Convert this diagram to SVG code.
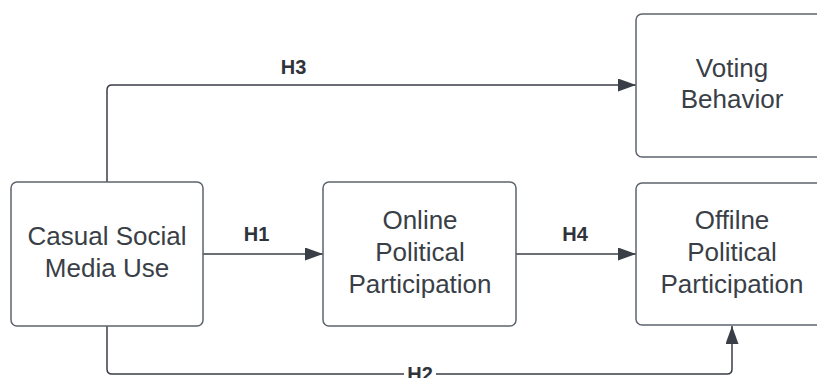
<svg xmlns="http://www.w3.org/2000/svg" width="817" height="378" viewBox="0 0 817 378">
<style>
.box{fill:#ffffff;stroke:#5e646e;stroke-width:1.5}
.t{font-family:"Liberation Sans",Arial,sans-serif;font-size:26px;fill:#3a3f47;text-anchor:middle}
.c{fill:none;stroke:#3a3f47;stroke-width:1.5}
.l{font-family:"Liberation Sans",Arial,sans-serif;font-size:20px;font-weight:bold;fill:#2f343b;text-anchor:middle}
</style>
<defs>
<marker id="ah" viewBox="0 0 18 13" refX="18" refY="6.5" markerWidth="18" markerHeight="13" markerUnits="userSpaceOnUse" orient="auto">
<path d="M0,0 L18,6.5 L0,13 Z" fill="#3a3f47"/>
</marker>
</defs>
<rect width="817" height="378" fill="#ffffff"/>
<g id="connectors">
<path class="c" d="M107,182 V90 Q107,85 112,85 H636" marker-end="url(#ah)"/>
<path class="c" d="M203,254 H323" marker-end="url(#ah)"/>
<path class="c" d="M516,254 H636" marker-end="url(#ah)"/>
<path class="c" d="M107,326 V369 Q107,374 112,374 H727 Q732,374 732,369 V326" marker-end="url(#ah)"/>
<text class="l" x="293.5" y="74">H3</text>
<text class="l" x="256.5" y="241">H1</text>
<text class="l" x="575" y="241">H4</text>
<rect x="404" y="366" width="32" height="14" fill="#ffffff"/>
<text class="l" x="420" y="381">H2</text>
</g>
<g id="casual">
<rect class="box" x="11" y="182" width="192" height="144" rx="6"/>
<text class="t" x="107" y="245">Casual Social</text>
<text class="t" x="107" y="276.5">Media Use</text>
</g>
<g id="online">
<rect class="box" x="323" y="182" width="193" height="144" rx="6"/>
<text class="t" x="420" y="229">Online</text>
<text class="t" x="420" y="261">Political</text>
<text class="t" x="420" y="293">Participation</text>
</g>
<g id="voting">
<rect class="box" x="636" y="14" width="193" height="143" rx="6"/>
<text class="t" x="732" y="77">Voting</text>
<text class="t" x="732" y="108">Behavior</text>
</g>
<g id="offline">
<rect class="box" x="636" y="183" width="193" height="142" rx="6"/>
<text class="t" x="732" y="229">Offilne</text>
<text class="t" x="732" y="261">Political</text>
<text class="t" x="732" y="293">Participation</text>
</g>
</svg>
